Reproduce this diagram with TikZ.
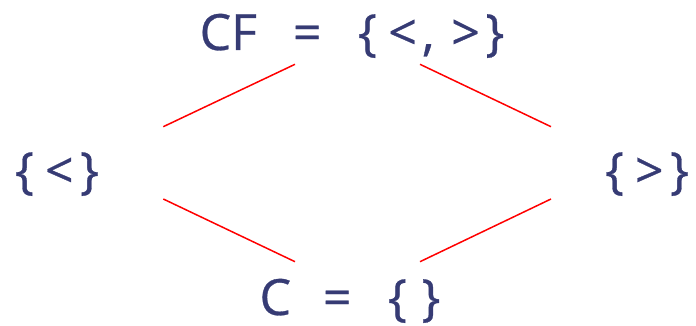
\documentclass[tikz,border=0pt]{standalone}
\usepackage{fontspec}
\setmainfont{Open Sans}
\definecolor{setblue}{HTML}{363B74}
\newcommand{\gap}[1]{\hspace{#1pt}}
\begin{document}
\begin{tikzpicture}[x=1pt,y=-1pt,
  setlabel/.style={text=setblue,font=\fontsize{50}{60}\selectfont\addfontfeature{FakeBold=0.6},inner sep=0pt,anchor=base},
  cover/.style={red,line width=1.5pt}]
\useasboundingbox (0,0) rectangle (696,326);
% the four sets
\node[setlabel] (cf) at (352,50) {CF\gap{36}=\gap{36.4}\{\gap{11.4}<\gap{5.3},\gap{16.8}>\gap{5.6}\}};
\node[setlabel] (lt) at (57,188) {\{\gap{11}<\gap{6.5}\}};
\node[setlabel] (gt) at (647,188) {\{\gap{11}>\gap{6.5}\}};
\node[setlabel] (c) at (350,315) {C\gap{31.9}=\gap{36.4}\{\gap{14.6}\}};
% covering relations
\draw[cover] ([shift={(-57,14.3)}]cf.base) -- ([shift={(106.3,-61.3)}]lt.base);
\draw[cover] ([shift={(68,14.3)}]cf.base) -- ([shift={(-96,-61.3)}]gt.base);
\draw[cover] ([shift={(-55,-53.3)}]c.base) -- ([shift={(106.3,11)}]lt.base);
\draw[cover] ([shift={(70,-53.3)}]c.base) -- ([shift={(-96,11)}]gt.base);
\end{tikzpicture}
\end{document}
